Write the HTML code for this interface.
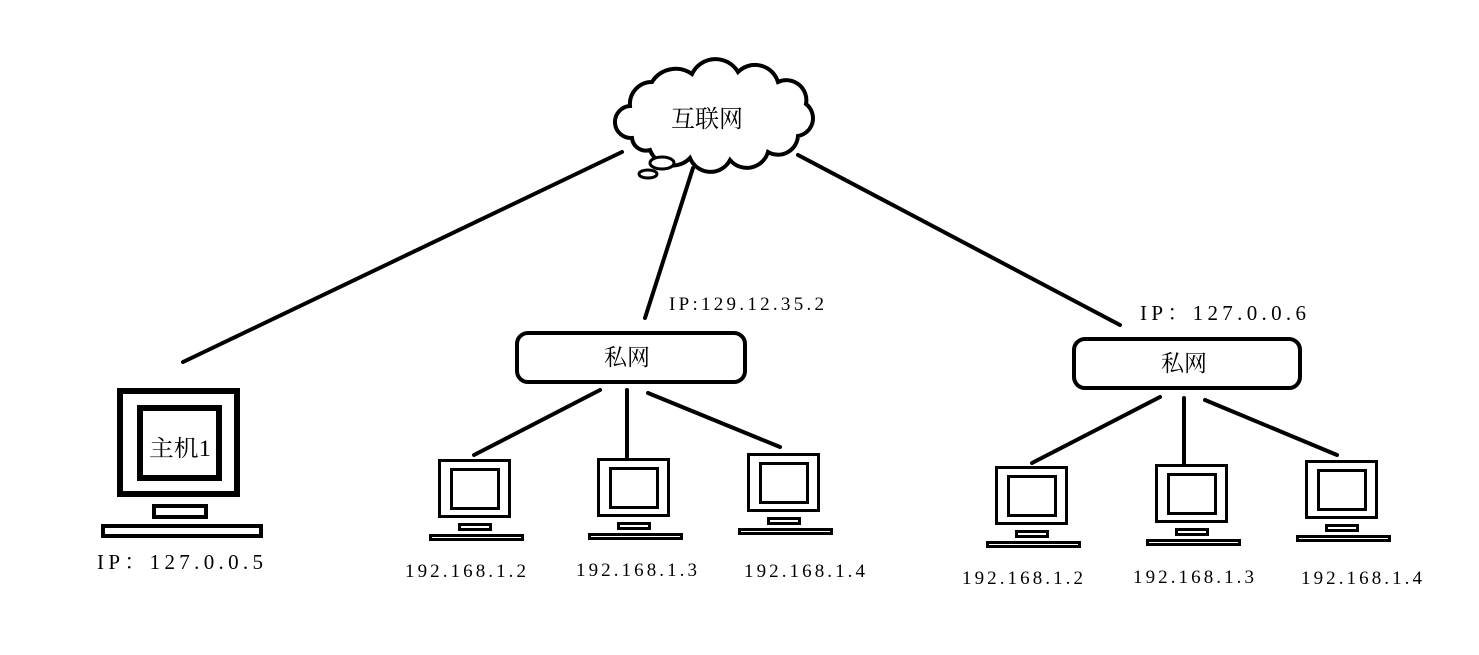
<!DOCTYPE html>
<html><head><meta charset="utf-8"><style>
html,body{margin:0;padding:0;background:#fff;}
text{font-family:"Liberation Serif","Noto Serif CJK SC",serif;fill:#000;}
</style></head><body>
<svg width="1479" height="650" viewBox="0 0 1479 650" xmlns="http://www.w3.org/2000/svg">
<defs>
<g id="pc" fill="#fff" stroke="#000" stroke-width="3">
<rect x="1.5" y="1.5" width="70" height="56"/>
<rect x="13.5" y="10.5" width="47" height="39"/>
<rect x="21.5" y="65.5" width="31" height="5"/>
<rect x="-7.5" y="76.5" width="92" height="4"/>
</g>
</defs>
<g stroke="#000" stroke-width="4" stroke-linecap="round">
<line x1="183" y1="362" x2="622" y2="152"/>
<line x1="645" y1="318" x2="693" y2="168"/>
<line x1="798" y1="155" x2="1120" y2="325"/>
<line x1="600" y1="390" x2="474" y2="455"/>
<line x1="627" y1="390" x2="627" y2="457"/>
<line x1="648" y1="393" x2="780" y2="447"/>
<line x1="1160" y1="397" x2="1032" y2="463"/>
<line x1="1184" y1="398" x2="1184" y2="463"/>
<line x1="1205" y1="400" x2="1337" y2="455"/>
</g>
<path d="M632,138 A16,16 0 0 1 630,106 A22,22 0 0 1 652,82 A28,28 0 0 1 692,74 A26,26 0 0 1 738,72 A24,24 0 0 1 778,82 A20,20 0 0 1 806,104 A18,18 0 0 1 798,136 A20,20 0 0 1 768,152 A22,22 0 0 1 730,160 A22,22 0 0 1 690,158 A24,24 0 0 1 650,150 A14,14 0 0 1 632,138 Z" fill="#fff" stroke="#000" stroke-width="4"/>
<ellipse cx="662" cy="163" rx="12" ry="6" fill="#fff" stroke="#000" stroke-width="3"/>
<ellipse cx="648" cy="174" rx="9" ry="4" fill="#fff" stroke="#000" stroke-width="3"/>
<text x="671" y="127" font-size="24">互联网</text>
<g fill="#fff" stroke="#000">
<rect x="120" y="391" width="117" height="103" stroke-width="6"/>
<rect x="140" y="408" width="79" height="70" stroke-width="6"/>
<rect x="154" y="506" width="52" height="11" stroke-width="4"/>
<rect x="103" y="526" width="158" height="10" stroke-width="4"/>
</g>
<text x="149" y="456" font-size="23" textLength="62" lengthAdjust="spacingAndGlyphs">主机1</text>
<text x="97" y="569" font-size="21" textLength="166" lengthAdjust="spacing">IP：127.0.0.5</text>
<rect x="517" y="333" width="228" height="49" rx="11" fill="#fff" stroke="#000" stroke-width="4"/>
<text x="604" y="365" font-size="23">私网</text>
<rect x="1074" y="339" width="226" height="49" rx="11" fill="#fff" stroke="#000" stroke-width="4"/>
<text x="1161" y="371" font-size="23">私网</text>
<text x="669" y="310" font-size="19" textLength="155" lengthAdjust="spacing">IP:129.12.35.2</text>
<text x="1140" y="320" font-size="21" textLength="166" lengthAdjust="spacing">IP：127.0.0.6</text>
<use href="#pc" x="438" y="459"/>
<use href="#pc" x="597" y="458"/>
<use href="#pc" x="747" y="453"/>
<use href="#pc" x="995" y="466"/>
<use href="#pc" x="1155" y="464"/>
<use href="#pc" x="1305" y="460"/>
<g font-size="19">
<text x="405" y="577" textLength="121" lengthAdjust="spacing">192.168.1.2</text>
<text x="576" y="576" textLength="121" lengthAdjust="spacing">192.168.1.3</text>
<text x="744" y="577" textLength="121" lengthAdjust="spacing">192.168.1.4</text>
<text x="962" y="584" textLength="121" lengthAdjust="spacing">192.168.1.2</text>
<text x="1133" y="583" textLength="121" lengthAdjust="spacing">192.168.1.3</text>
<text x="1301" y="584" textLength="121" lengthAdjust="spacing">192.168.1.4</text>
</g>
</svg>
</body></html>
